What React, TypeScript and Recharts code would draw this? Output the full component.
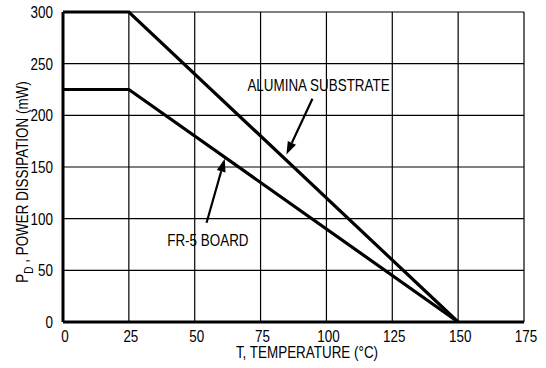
import { LineChart, Line, XAxis, YAxis, CartesianGrid, ReferenceLine, ReferenceDot } from "recharts"

// derating curves, T (°C) vs PD (mW)
const temps = [0, 25, 150]
const aluminaPd = [300, 300, 0]
const fr5Pd = [225, 225, 0]

const xTicks = [0, 25, 50, 75, 100, 125, 150, 175]
const yTicks = [0, 50, 100, 150, 200, 250, 300]

// annotation callouts: label position and arrow tail -> head, in data units
const aluminaLabel = { t: 97, pd: 229, text: "ALUMINA SUBSTRATE" }
const aluminaArrow = [{ x: 94.7, y: 216 }, { x: 84.8, y: 162 }]
const fr5Label = { t: 55, pd: 79, text: "FR-5 BOARD" }
const fr5Arrow = [{ x: 54.5, y: 96 }, { x: 61.4, y: 158 }]

const alumina = temps.map((t, i) => ({ t, pd: aluminaPd[i] }))
const fr5 = temps.map((t, i) => ({ t, pd: fr5Pd[i] }))

const FONT = "'Liberation Sans', Arial, sans-serif"
const SQUEEZE = 0.84 // condensed look of the datasheet font

function Narrow({ x, y, anchor = "middle", size = 16, rotate = 0, children }: any) {
  return (
    <text transform={`translate(${x},${y}) rotate(${rotate}) scale(${SQUEEZE},1)`} x={0} y={0}
      textAnchor={anchor} fontFamily={FONT} fontSize={size} fill="#000">
      {children}
    </text>
  )
}

function XTick(props: any) {
  const { x, y, payload } = props
  return <Narrow x={x + 2} y={y + 12}>{payload.value}</Narrow>
}

function YTick(props: any) {
  const { x, y, payload } = props
  return <Narrow x={x} y={y + 6} anchor="end">{payload.value}</Narrow>
}

function Arrow(props: any) {
  const { x1, y1, x2, y2 } = props
  const dx = x2 - x1
  const dy = y2 - y1
  const len = Math.sqrt(dx * dx + dy * dy)
  const ux = dx / len
  const uy = dy / len
  const hl = 13
  const hw = 4.5
  const bx = x2 - ux * hl
  const by = y2 - uy * hl
  const pts = `${x2},${y2} ${bx - uy * hw},${by + ux * hw} ${bx + uy * hw},${by - ux * hw}`
  return (
    <g>
      <line x1={x1} y1={y1} x2={bx} y2={by} stroke="#000" strokeWidth={2.2} />
      <polygon points={pts} fill="#000" />
    </g>
  )
}

function LabelText(text: string) {
  return (props: any) => <Narrow x={props.cx} y={props.cy + 6}>{text}</Narrow>
}

function YLabel() {
  return (
    <Narrow x={28} y={182} rotate={-90}>
      <tspan>P</tspan>
      <tspan fontSize={12} dy={5}>D</tspan>
      <tspan dy={-5}> , POWER DISSIPATION (mW)</tspan>
    </Narrow>
  )
}

function XLabel() {
  return <Narrow x={307} y={358}>T, TEMPERATURE (°C)</Narrow>
}

export default function App() {
  return (
    <div style={{ position: "absolute", left: 0, top: 0, background: "#fff" }}>
      <LineChart width={546} height={368} margin={{ top: 12, right: 22, bottom: 0, left: 0 }}>
        <CartesianGrid stroke="#000" strokeWidth={1.2} />
        <XAxis dataKey="t" type="number" domain={[0, 175]} ticks={xTicks} interval={0}
          axisLine={{ stroke: "#000", strokeWidth: 3 }} tickLine={false} tickMargin={2} height={46}
          tick={<XTick />} label={<XLabel />} />
        <YAxis dataKey="pd" type="number" domain={[0, 300]} ticks={yTicks} interval={0}
          axisLine={{ stroke: "#000", strokeWidth: 3 }} tickLine={false} tickMargin={4} width={63}
          tick={<YTick />} label={<YLabel />} />
        <Line data={alumina} dataKey="pd" type="linear" stroke="#000" strokeWidth={3.2} dot={false} isAnimationActive={false} />
        <Line data={fr5} dataKey="pd" type="linear" stroke="#000" strokeWidth={3.2} dot={false} isAnimationActive={false} />
        <ReferenceLine segment={aluminaArrow} shape={Arrow} />
        <ReferenceLine segment={fr5Arrow} shape={Arrow} />
        <ReferenceDot x={aluminaLabel.t} y={aluminaLabel.pd} r={0} shape={LabelText(aluminaLabel.text)} />
        <ReferenceDot x={fr5Label.t} y={fr5Label.pd} r={0} shape={LabelText(fr5Label.text)} />
      </LineChart>
    </div>
  )
}
